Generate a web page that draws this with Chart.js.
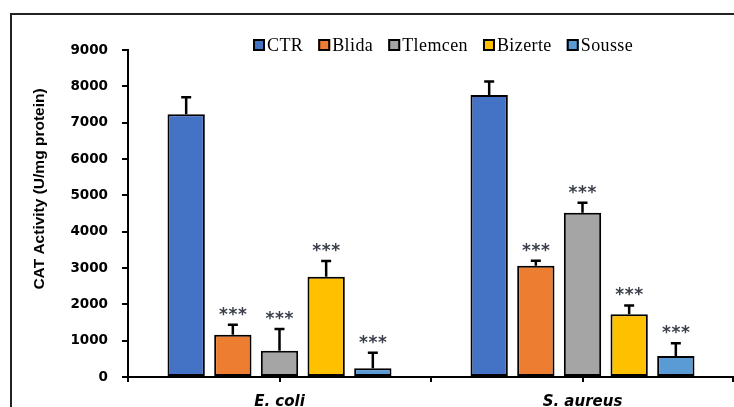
<!DOCTYPE html>
<html><head><meta charset="utf-8">
<script src="https://cdn.jsdelivr.net/npm/chart.js@4.4.0/dist/chart.umd.min.js"></script>
<style>html,body{margin:0;padding:0;background:#fff;overflow:hidden}#wrap{position:relative;width:734px;height:407px}</style>
</head><body><div id="wrap"><canvas id="c" width="734" height="407"></canvas></div>
<script>
// ---- data ----
const categories = ['E. coli', 'S. aureus'];
const seriesNames = ['CTR', 'Blida', 'Tlemcen', 'Bizerte', 'Sousse'];
const ctrValues = [7230, 7760];
const blidaValues = [1160, 3060];
const tlemcenValues = [720, 4520];
const bizerteValues = [2760, 1730];
const sousseValues = [240, 580];
const ctrErr = [470, 370];
const blidaErr = [280, 140];
const tlemcenErr = [600, 275];
const bizerteErr = [430, 240];
const sousseErr = [430, 350];
const ctrSig = ['', ''];
const blidaSig = ['***', '***'];
const tlemcenSig = ['***', '***'];
const bizerteSig = ['***', '***'];
const sousseSig = ['***', '***'];
const yTicks = [0, 1000, 2000, 3000, 4000, 5000, 6000, 7000, 8000, 9000];
const yTitle = 'CAT Activity (U/mg protein)';

// ---- styles ----
const colors = ['#4472C4', '#ED7D31', '#A5A5A5', '#FFC000', '#5B9BD5'];
const allValues = [ctrValues, blidaValues, tlemcenValues, bizerteValues, sousseValues];
const allErr = [ctrErr, blidaErr, tlemcenErr, bizerteErr, sousseErr];
const allSig = [ctrSig, blidaSig, tlemcenSig, bizerteSig, sousseSig];

const datasets = seriesNames.map((name, i) => ({
  label: name,
  data: allValues[i],
  errors: allErr[i],
  sig: allSig[i],
  backgroundColor: colors[i],
  borderColor: '#000',
  borderWidth: 2,
  borderSkipped: false,
  categoryPercentage: 0.77,
  barPercentage: 0.8
}));

const decor = {
  id: 'decor',
  beforeDraw(chart) {
    const ctx = chart.ctx;
    ctx.save();
    ctx.fillStyle = '#fff';
    ctx.fillRect(0, 0, chart.width, chart.height);
    ctx.strokeStyle = '#222';
    ctx.lineWidth = 2;
    ctx.beginPath();
    ctx.moveTo(11, 407);
    ctx.lineTo(11, 14);
    ctx.lineTo(734, 14);
    ctx.stroke();
    ctx.restore();
  },
  afterDatasetsDraw(chart) {
    const ctx = chart.ctx;
    const ys = chart.scales.y;
    ctx.save();
    chart.data.datasets.forEach((ds, i) => {
      const meta = chart.getDatasetMeta(i);
      meta.data.forEach((bar, j) => {
        const v = ds.data[j], e = ds.errors[j];
        const yTop = ys.getPixelForValue(v + e);
        ctx.strokeStyle = '#000';
        ctx.lineWidth = 2.5;
        ctx.beginPath();
        ctx.moveTo(bar.x, bar.y);
        ctx.lineTo(bar.x, yTop);
        ctx.moveTo(bar.x - 5, yTop);
        ctx.lineTo(bar.x + 5, yTop);
        ctx.stroke();
        const s = ds.sig[j];
        if (s) {
          ctx.fillStyle = '#3a3f4a';
          ctx.font = 'bold 17px "DejaVu Sans"';
          ctx.textAlign = 'center';
          ctx.textBaseline = 'alphabetic';
          const n = s.length;
          for (let k = 0; k < n; k++) {
            ctx.fillText('*', bar.x + (k - (n - 1) / 2) * 9.5, yTop - 14 + 9);
          }
        }
      });
    });
    ctx.restore();
  },
  afterDraw(chart) {
    const ctx = chart.ctx;
    const area = chart.chartArea;
    ctx.save();
    // boundary ticks on x axis
    ctx.strokeStyle = '#000';
    ctx.lineWidth = 2;
    const w = (area.right - area.left) / categories.length;
    ctx.beginPath();
    for (let i = 0; i <= categories.length; i++) {
      const x = Math.min(area.left + i * w, chart.width - 1);
      ctx.moveTo(x, area.bottom);
      ctx.lineTo(x, area.bottom + 5);
    }
    ctx.stroke();
    // y title
    ctx.translate(40, 189);
    ctx.rotate(-Math.PI / 2);
    ctx.fillStyle = '#000';
    ctx.font = 'bold 15.5px "Liberation Sans"';
    ctx.textAlign = 'center';
    ctx.textBaseline = 'middle';
    ctx.fillText(yTitle, 0, 0);
    ctx.setTransform(1, 0, 0, 1, 0, 0);
    // legend
    ctx.font = '18px "Liberation Serif"';
    ctx.letterSpacing = '0.4px';
    ctx.textBaseline = 'middle';
    ctx.textAlign = 'left';
    let x = 253;
    const yc = 45;
    chart.data.datasets.forEach((ds, i) => {
      ctx.fillStyle = ds.backgroundColor;
      ctx.fillRect(x, yc - 6, 12, 12);
      ctx.strokeStyle = '#000';
      ctx.lineWidth = 2;
      ctx.strokeRect(x + 1, yc - 5, 10, 10);
      ctx.fillStyle = '#000';
      ctx.fillText(ds.label, x + 14, yc + 1);
      x += 14 + ctx.measureText(ds.label).width + 15;
    });
    ctx.restore();
  }
};

new Chart(document.getElementById('c'), {
  type: 'bar',
  data: { labels: categories, datasets },
  options: {
    responsive: false,
    animation: false,
    devicePixelRatio: 1,
    layout: { padding: { top: 50, left: 0, right: 0, bottom: 0 } },
    plugins: { legend: { display: false }, tooltip: { enabled: false } },
    scales: {
      x: {
        afterFit(s) { s.height = 30; },
        grid: { display: true, drawOnChartArea: false, drawTicks: true, tickLength: 5, offset: false, color: '#000', lineWidth: 2 },
        border: { display: true, color: '#000', width: 2 },
        ticks: { color: '#000', padding: 11, font: { family: 'DejaVu Sans', size: 15, weight: 'bold', style: 'italic' } }
      },
      y: {
        min: 0, max: 9000,
        afterFit(s) { s.width = 128; },
        afterBuildTicks(s) { s.ticks = yTicks.map(v => ({ value: v })); },
        grid: { display: true, drawOnChartArea: false, drawTicks: true, tickLength: 6, color: '#000', lineWidth: 2 },
        border: { display: true, color: '#000', width: 2 },
        ticks: { color: '#000', padding: 14, callback: v => String(v), font: { family: 'DejaVu Sans', size: 13.5, weight: 'bold' } }
      }
    }
  },
  plugins: [decor]
});
</script></body></html>
